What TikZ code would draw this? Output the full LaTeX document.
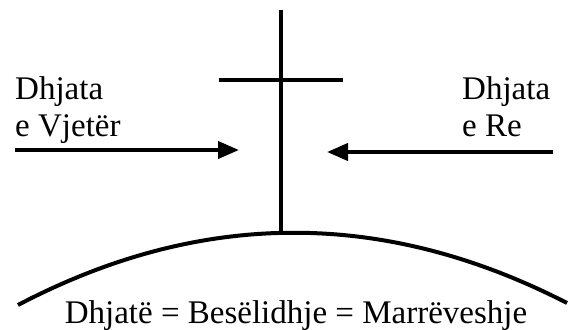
\documentclass[tikz,border=0pt]{standalone}
\usepackage{fontspec}
\setmainfont{Liberation Serif}
\usetikzlibrary{arrows.meta}
\begin{document}
\begin{tikzpicture}[x=1pt,y=-1pt]
\tikzstyle{trait} = [line width=4pt] %épaisseur des traits
\tikzstyle{fleche} = [trait,-{Triangle[length=21pt,width=17pt]}]
\tikzstyle{texte} = [inner sep=0pt,font=\fontsize{33}{37}\selectfont,align=left]
\useasboundingbox (0,0) rectangle (572,329);

%points de la croix
\coordinate (H) at (281,10);
\coordinate (P) at (281,234);
\coordinate (G) at (219,80);
\coordinate (D) at (343,80);

%extrémités des flèches
\coordinate (A1) at (15,150);
\coordinate (A2) at (239,150);
\coordinate (B1) at (553,152);
\coordinate (B2) at (327,152);

%textes
\node[texte,anchor=north west] (vjeter) at (15,76) {Dhjata\\e Vjetër};
\node[texte,anchor=north west] (re) at (462,76) {Dhjata\\e Re};
\node[texte,anchor=base] (dhjata) at (296,323) {Dhjatë = Besëlidhje = Marrëveshje};

%la croix
\draw[trait] (H)--(P);
\draw[trait] (G)--(D);

%les flèches
\draw[fleche] (A1)--(A2);
\draw[fleche] (B1)--(B2);

%l'arc
\draw[trait] (18,305) .. controls (201,209) and (384,209) .. (567,303);
\end{tikzpicture}
\end{document}
